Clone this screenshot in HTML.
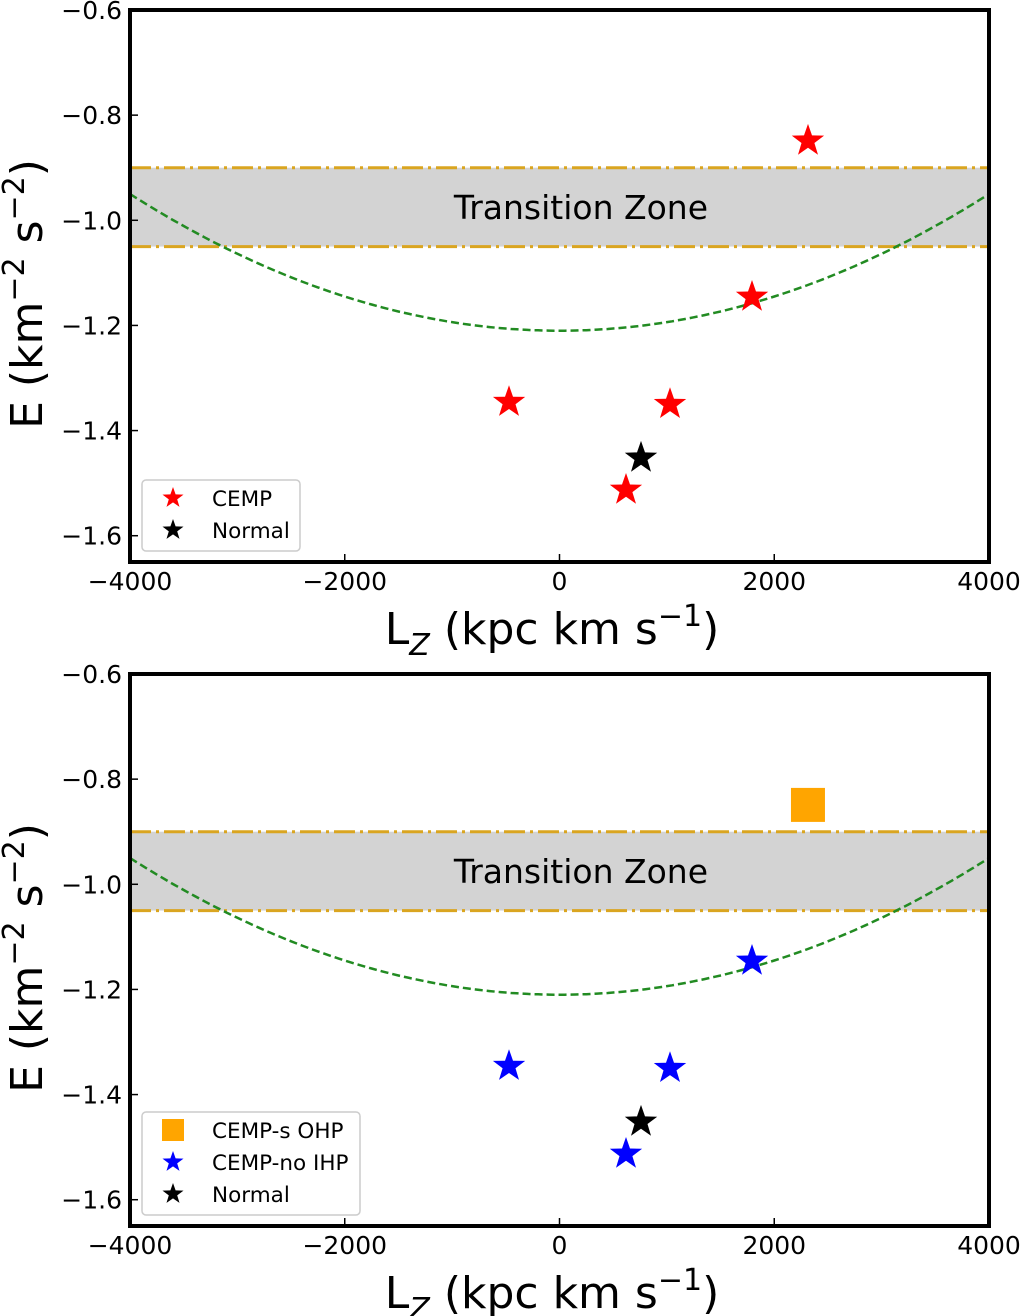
<!DOCTYPE html>
<html><head><meta charset="utf-8"><style>
body{margin:0;background:#fff;}
svg{display:block;font-family:"DejaVu Sans","Liberation Sans",sans-serif;}
</style></head><body>
<svg id="fig" width="1020" height="1316" viewBox="0 0 1020 1316" xmlns="http://www.w3.org/2000/svg"></svg>
<script>
const lzCemp=[2314,1793,-470,1029,619];
const eCemp=[-0.849,-1.146,-1.346,-1.350,-1.513];
const lzNormal=[759];
const eNormal=[-1.452];
const lzOHP=[2314];
const eOHP=[-0.849];
const lzIHP=[1793,-470,1029,619];
const eIHP=[-1.146,-1.346,-1.350,-1.513];
const xTicks=[-4000,-2000,0,2000,4000];
const yTicks=[-0.6,-0.8,-1.0,-1.2,-1.4,-1.6];
const yTickLabels=["\u22120.6","\u22120.8","\u22121.0","\u22121.2","\u22121.4","\u22121.6"];
const xTickLabels=["\u22124000","\u22122000","0","2000","4000"];
const bandTop=-0.9, bandBot=-1.05;
const curveMin=-1.21, curveEdge=-0.95;

const NS="http://www.w3.org/2000/svg";
const svg=document.getElementById('fig');
function mk(tag,attrs,parent){const e=document.createElementNS(NS,tag);for(const k in attrs)e.setAttribute(k,attrs[k]);(parent||svg).appendChild(e);return e;}
function starPath(cx,cy,R){let r=R*0.4,d="";for(let i=0;i<10;i++){const a=-Math.PI/2+i*Math.PI/5,rr=i%2?r:R;d+=(i?"L":"M")+(cx+rr*Math.cos(a)).toFixed(1)+","+(cy+rr*Math.sin(a)).toFixed(1);}return d+"Z";}

function panel(top,name,series,legend){
  const L=130,R=989,T=top,B=top+552;
  const sx=v=>L+(v+4000)/8000*(R-L);
  const sy=v=>T+(-0.6-v)/1.05*(B-T);
  const g=mk('g',{});
  
  
  const band=mk('rect',{x:L,y:sy(bandTop),width:R-L,height:sy(bandBot)-sy(bandTop),fill:'#d3d3d3'},g);
  
  [bandTop,bandBot].forEach(v=>{const l=mk('line',{x1:L,x2:R,y1:sy(v),y2:sy(v),stroke:'#daa520','stroke-width':3,'stroke-dasharray':'21 5 3 5'},g);
    });
  const tz=mk('text',{x:sx(200),y:sy(-0.975)+12,'font-size':33,'text-anchor':'middle',fill:'#000'},g);tz.textContent='Transition Zone';
  
  const k=(curveEdge-curveMin)/16e6;let d="";
  for(let v=-4000;v<=4000;v+=50){d+=(v===-4000?"M":"L")+sx(v).toFixed(1)+","+sy(curveMin+k*v*v).toFixed(1);}
  const c=mk('path',{d:d,fill:'none',stroke:'#228b22','stroke-width':2.5,'stroke-dasharray':'8 4'},g);
  
  series.forEach(s=>{s.x.forEach((v,i)=>{let m;
    if(s.shape==='sq'){m=mk('rect',{x:sx(v)-17,y:sy(s.y[i])-17,width:34,height:34,fill:s.color},g);}
    else m=mk('path',{d:starPath(sx(v),sy(s.y[i]),17),fill:s.color},g);
    });});
  xTicks.forEach((v,i)=>{mk('line',{x1:sx(v),x2:sx(v),y1:B,y2:B-8,stroke:'#000','stroke-width':1.5},g);
    const t=mk('text',{x:sx(v),y:B+28,'font-size':25,'text-anchor':'middle'},g);t.textContent=xTickLabels[i];
    });
  yTicks.forEach((v,i)=>{mk('line',{x1:L,x2:L+8,y1:sy(v),y2:sy(v),stroke:'#000','stroke-width':1.5},g);
    const t=mk('text',{x:L-8,y:sy(v)+9,'font-size':25,'text-anchor':'end'},g);t.textContent=yTickLabels[i];
    });
  const fr=mk('rect',{x:L,y:T,width:R-L,height:B-T,fill:'none',stroke:'#000','stroke-width':4},g);
  
  const lh=legend.length*32+7, lw=legend.w, ltop=B-11-lh;
  const lg=mk('g',{},g);
  mk('rect',{x:142,y:ltop,width:lw,height:lh,rx:4,fill:'#fff',stroke:'#ccc','stroke-width':1.5},lg);
  legend.forEach((e,i)=>{const cy=ltop+18+i*32;
    if(e.shape==='sq')mk('rect',{x:162,y:cy-11,width:22,height:22,fill:e.color},lg);
    else mk('path',{d:starPath(173,cy,11),fill:e.color},lg);
    const t=mk('text',{x:212,y:cy+8,'font-size':21.5},lg);t.textContent=e.label;
    });
  const xl=mk('text',{x:552,y:B+82,'font-size':44,'text-anchor':'middle'},g);
  xl.innerHTML='L<tspan font-size="30" dy="11" font-style="italic">Z</tspan><tspan dy="-11"> (kpc km s</tspan><tspan font-size="30" dy="-18">\u22121</tspan><tspan dy="18">)</tspan>';
  
  const yl=mk('text',{x:0,y:0,'font-size':44,'text-anchor':'middle',transform:`translate(42,${(T+B)/2+8}) rotate(-90)`},g);
  yl.innerHTML='E (km<tspan font-size="30" dy="-18">\u22122</tspan><tspan dy="18"> s</tspan><tspan font-size="30" dy="-18">\u22122</tspan><tspan dy="18">)</tspan>';
  
}
const leg1=[{label:'CEMP',color:'#ff0000'},{label:'Normal',color:'#000'}];leg1.w=158;
panel(10,'top-panel',[{x:lzCemp,y:eCemp,color:'#ff0000',name:'cemp-star'},{x:lzNormal,y:eNormal,color:'#000',name:'normal-star'}],leg1);
const leg2=[{label:'CEMP-s OHP',color:'#ffa500',shape:'sq'},{label:'CEMP-no IHP',color:'#0000ff'},{label:'Normal',color:'#000'}];leg2.w=218;
panel(674,'bottom-panel',[{x:lzOHP,y:eOHP,color:'#ffa500',shape:'sq',name:'cemp-s-ohp-square'},{x:lzIHP,y:eIHP,color:'#0000ff',name:'cemp-no-ihp-star'},{x:lzNormal,y:eNormal,color:'#000',name:'normal-star'}],leg2);
</script>
</body></html>
